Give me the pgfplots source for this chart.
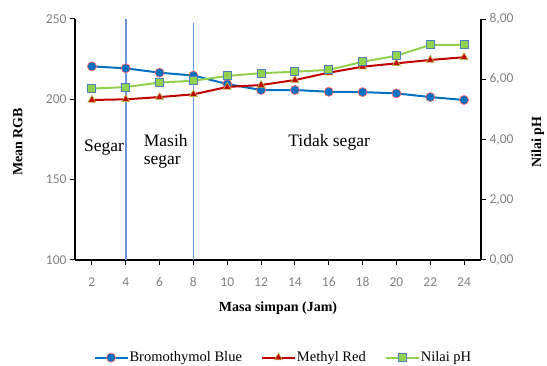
\documentclass[border=0pt]{standalone}
\usepackage{pgfplots}
\pgfplotsset{compat=1.18}
\usepackage{fontspec}
\setmainfont{Liberation Serif}
\newfontfamily\tickfont{Carlito}
\definecolor{cblue}{RGB}{0,112,192}
\definecolor{cred}{RGB}{192,0,0}
\definecolor{cgreen}{RGB}{146,208,80}
\definecolor{cedge}{RGB}{79,129,189}
\definecolor{cvline}{RGB}{105,150,218}
\definecolor{tickgray}{RGB}{128,128,128}
\begin{document}
\begin{tikzpicture}
\useasboundingbox (0,0) rectangle (547pt,366pt);
\begin{axis}[
  at={(75pt,106pt)}, anchor=south west,
  scale only axis, width=406pt, height=241pt,
  xmin=1, xmax=25, ymin=100, ymax=250,
  axis y line*=left, axis x line*=bottom,
  xtick={2,4,...,24}, ytick={100,150,200,250},
  tick align=outside, tick style={black, line width=1pt},
  major tick length=5pt,
  axis line style={black, line width=1.1pt},
  ticklabel style={font=\tickfont\fontsize{13.5}{15}\selectfont, text=tickgray},
  xticklabel style={yshift=-9pt},
  /pgf/number format/assume math mode=true,
  ylabel={\bfseries Mean RGB}, ylabel style={font=\rmfamily\fontsize{14}{16}\selectfont, at={(axis description cs:-0.141,0.49)}, anchor=center},
  xlabel={\bfseries Masa simpan (Jam)}, xlabel style={font=\rmfamily\fontsize{14}{16}\selectfont, at={(axis description cs:0.5,-0.2)}, anchor=center},
  clip=false,
  legend columns=3,
  legend style={draw=none, fill=none, at={(0.512,-0.405)}, anchor=center, font=\rmfamily\fontsize{14.5}{16}\selectfont, nodes={inner sep=1pt}, /tikz/every even column/.append style={column sep=18pt}},
  legend cell align=left,
  legend image code/.code={\draw[mark repeat=2,mark phase=2] plot coordinates {(0pt,0pt) (16.5pt,0pt) (33pt,0pt)};},
]
\addplot[cvline, line width=1.6pt, forget plot] coordinates {(4,100) (4,250)};
\addplot[cvline, line width=1.6pt, forget plot] coordinates {(8,100) (8,247.5)};
\addplot[cblue, line width=2pt, mark=*, mark size=4.5pt, mark options={fill=cblue, draw=red!60!white, line width=0.7pt}] coordinates {
(2,220.5) (4,219.3) (6,216.6) (8,214.8) (10,209.5) (12,205.8) (14,205.8) (16,204.7) (18,204.5) (20,203.7) (22,201.4) (24,199.6)};
\addlegendentry{Bromothymol Blue}
\addplot[cred, line width=2pt, mark=triangle*, mark size=4.5pt, mark options={fill=cred, draw=olive!60!white, line width=0.7pt}] coordinates {
(2,199.6) (4,200.0) (6,201.4) (8,203.1) (10,207.7) (12,208.9) (14,212.0) (16,216.6) (18,220.3) (20,222.4) (22,224.5) (24,226.2)};
\addlegendentry{Methyl Red}
\addlegendimage{cgreen, line width=2pt, mark=square*, mark size=4pt, mark options={fill=cgreen, draw=cedge, line width=0.9pt}}
\addlegendentry{Nilai pH}
\node[font=\fontsize{17.5}{18}\selectfont, anchor=west, inner sep=0pt] at (axis cs:1.53,169.7) {Segar};
\node[font=\fontsize{17.5}{18}\selectfont, anchor=west, align=left, inner sep=0pt] at (axis cs:5.06,167.8) {Masih\\segar};
\node[font=\fontsize{17.5}{18}\selectfont, anchor=west, inner sep=0pt] at (axis cs:13.6,173.4) {Tidak segar};
\end{axis}
\begin{axis}[
  at={(75pt,106pt)}, anchor=south west,
  scale only axis, width=406pt, height=241pt,
  xmin=1, xmax=25, ymin=0, ymax=8,
  axis y line*=right, axis x line=none,
  ytick={0,2,4,6,8},
  tick align=outside, tick style={black, line width=1pt},
  major tick length=5pt,
  axis line style={black, line width=1.1pt},
  ticklabel style={font=\tickfont\fontsize{13.5}{15}\selectfont, text=tickgray},
  /pgf/number format/assume math mode=true,
  yticklabel style={/pgf/number format/.cd, fixed, fixed zerofill, precision=2, use comma},
  ylabel={\bfseries Nilai pH}, ylabel style={font=\rmfamily\fontsize{14}{16}\selectfont, at={(axis description cs:1.14,0.49)}, anchor=center},
  clip=false,
]
\addplot[cgreen, line width=2pt, mark=square*, mark size=4pt, mark options={fill=cgreen, draw=cedge, line width=0.9pt}] coordinates {
(2,5.69) (4,5.74) (6,5.89) (8,5.95) (10,6.11) (12,6.20) (14,6.25) (16,6.31) (18,6.58) (20,6.78) (22,7.14) (24,7.14)};
\end{axis}
\end{tikzpicture}
\end{document}
